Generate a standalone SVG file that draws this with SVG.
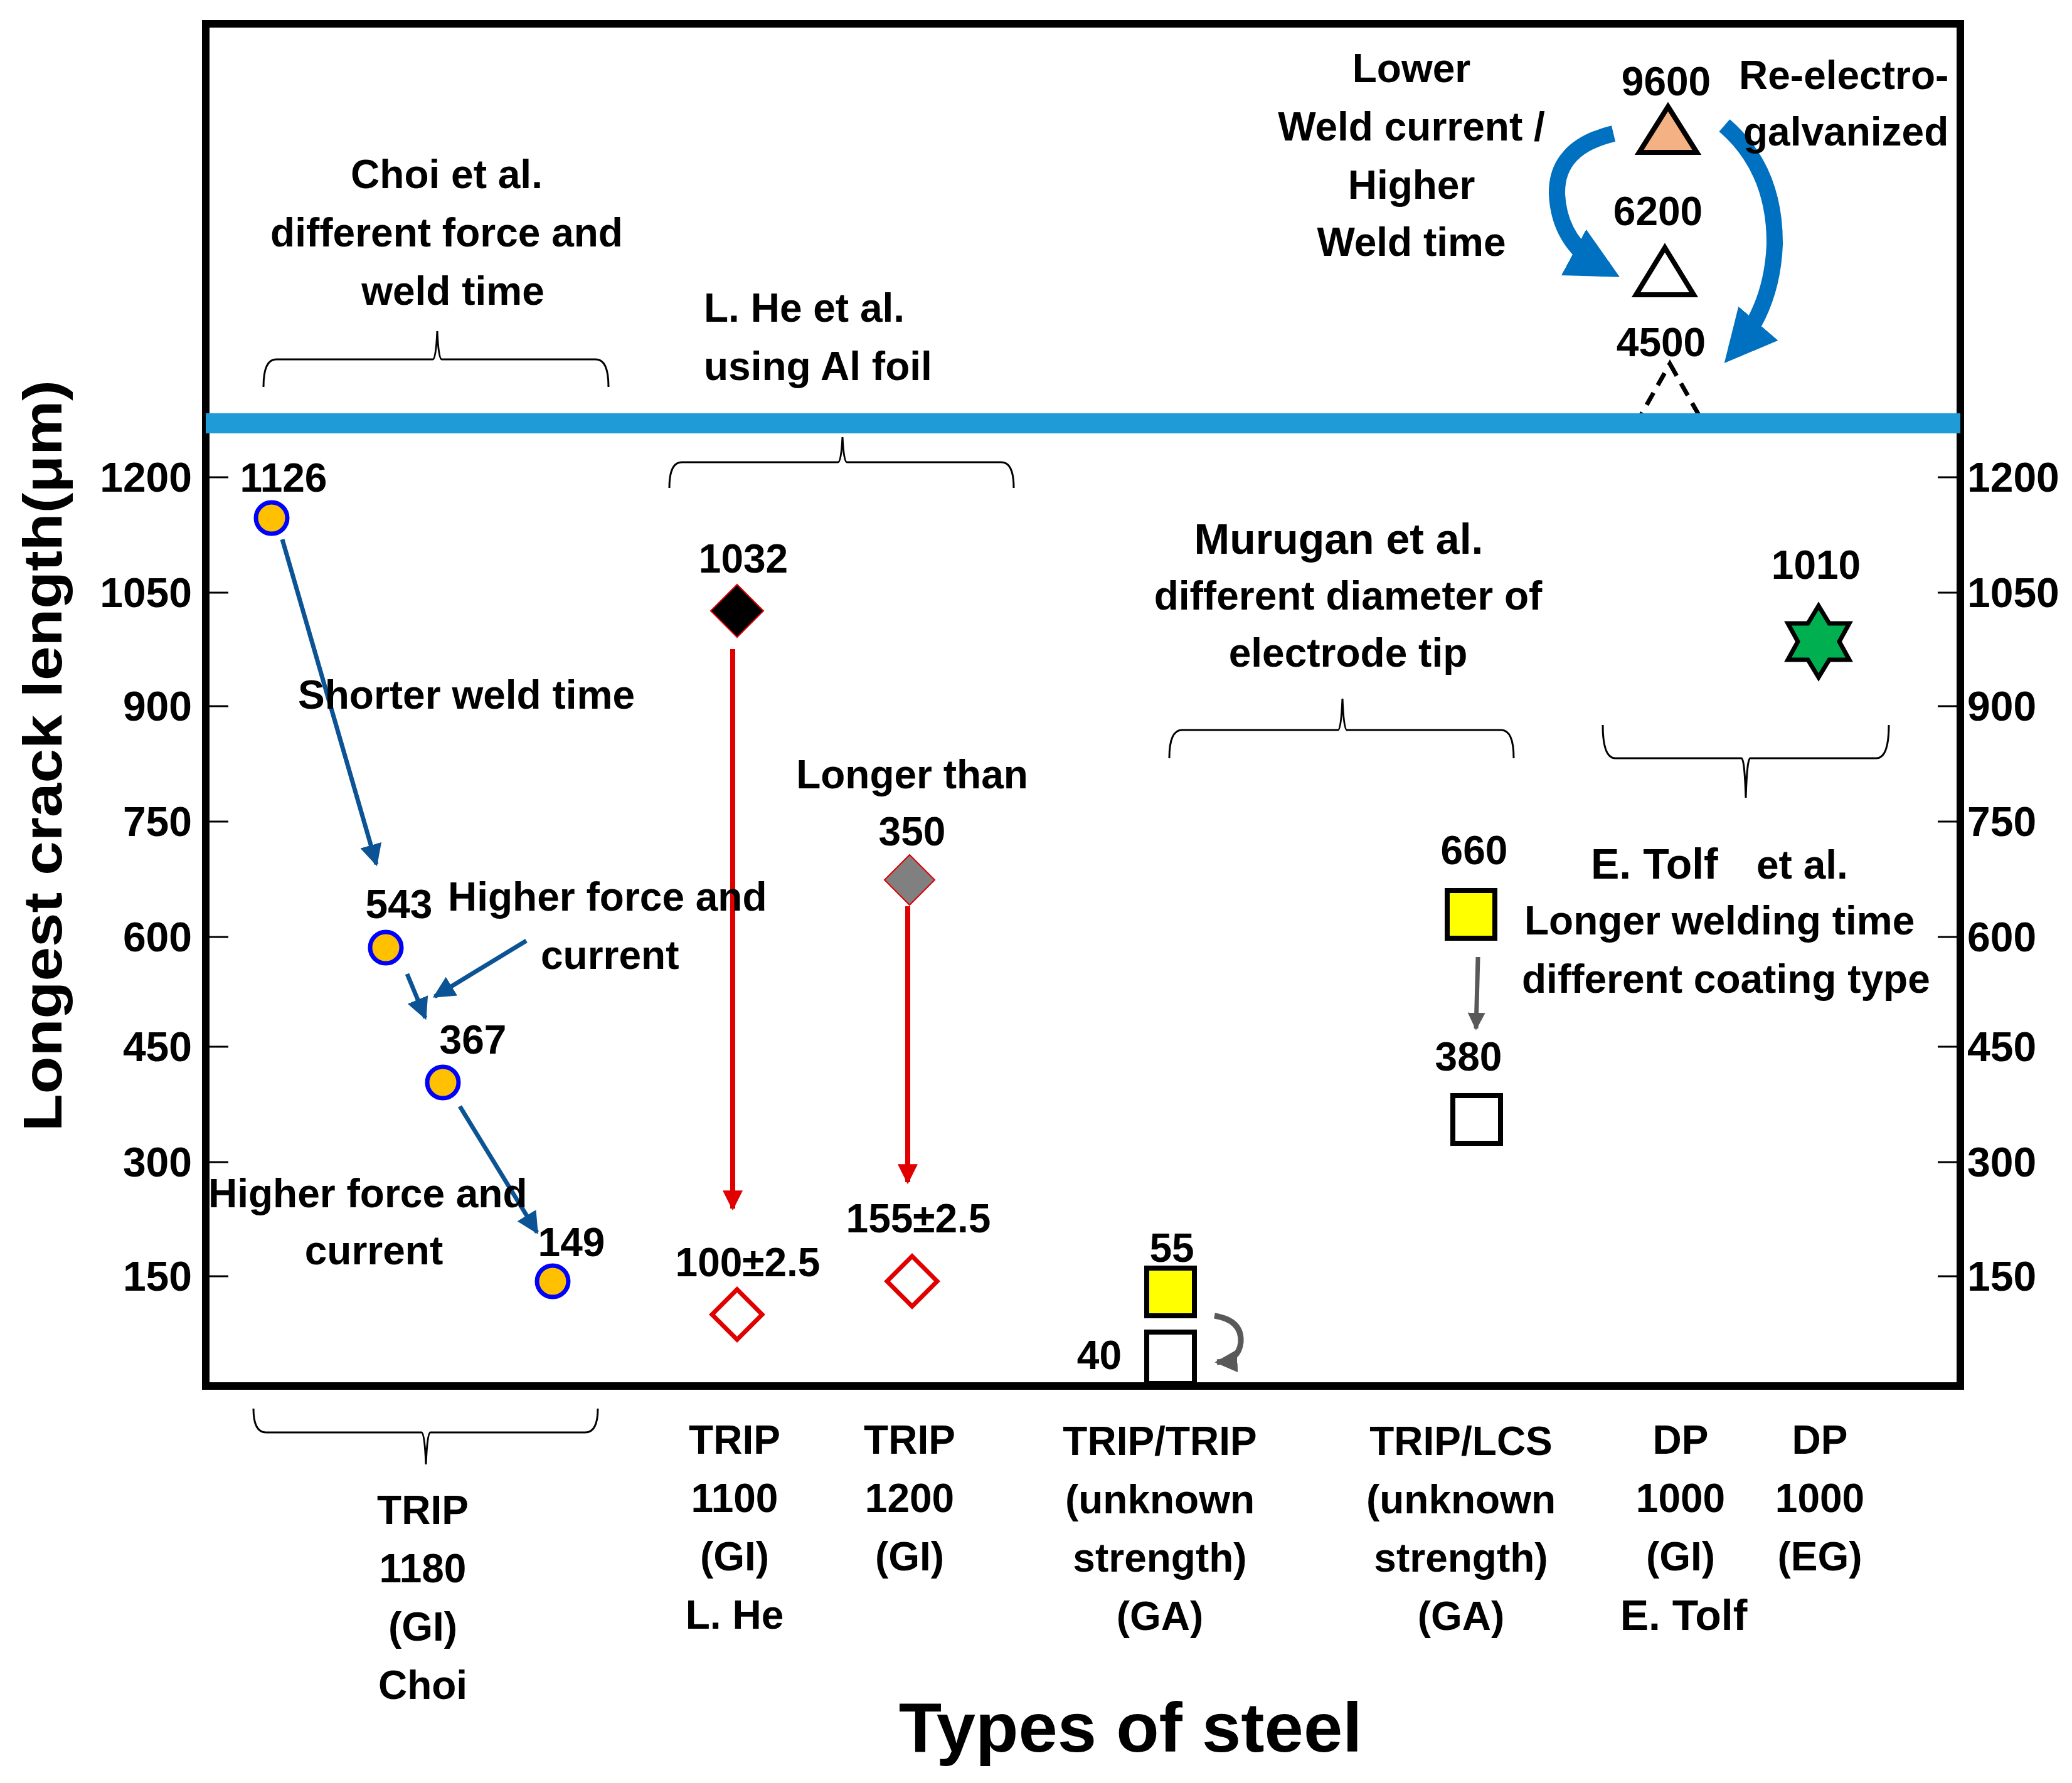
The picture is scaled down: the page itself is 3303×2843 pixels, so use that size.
<svg xmlns="http://www.w3.org/2000/svg" width="3303" height="2843" viewBox="0 0 3303 2843">
<style>
text{font-family:"Liberation Sans",Arial,sans-serif;font-weight:bold;fill:#000}
.t{font-size:64px}
.c{text-anchor:middle}
.r{text-anchor:end}
.k{font-size:66px}
.br{fill:none;stroke:#000;stroke-width:3}
.pt{fill:#FFC000;stroke:#0000FF;stroke-width:7}
</style>
<defs>
<marker id="ab" viewBox="0 0 10 10" refX="9" refY="5" markerWidth="5" markerHeight="5" orient="auto" markerUnits="strokeWidth"><path d="M0,0L10,5L0,10z" fill="#0B5394"/></marker>
<marker id="ar" viewBox="0 0 10 10" refX="9" refY="5" markerWidth="4" markerHeight="4" orient="auto" markerUnits="strokeWidth"><path d="M0,0L10,5L0,10z" fill="#E00000"/></marker>
<marker id="ag" viewBox="0 0 10 10" refX="9" refY="5" markerWidth="4" markerHeight="4" orient="auto" markerUnits="strokeWidth"><path d="M0,0L10,5L0,10z" fill="#595959"/></marker>
<marker id="aB" viewBox="0 0 10 10" refX="7" refY="5" markerWidth="3.2" markerHeight="3.2" orient="auto" markerUnits="strokeWidth"><path d="M0,0L10,5L0,10z" fill="#0070C0"/></marker>
</defs>
<rect width="3303" height="2843" fill="#fff"/>
<g id="frame">
<rect x="328" y="38" width="2797" height="2172" fill="none" stroke="#000" stroke-width="12"/>
<rect x="328" y="659" width="2797" height="32" fill="#1F9BD7"/>
<g stroke="#000" stroke-width="3">
<path d="M334 761H364M334 945H364M334 1126H364M334 1310H364M334 1494H364M334 1669H364M334 1853H364M334 2035H364"/>
<path d="M3089 761H3119M3089 945H3119M3089 1126H3119M3089 1310H3119M3089 1494H3119M3089 1669H3119M3089 1853H3119M3089 2035H3119"/>
</g>
<g class="k r">
<text x="306" y="784">1200</text><text x="306" y="968">1050</text><text x="306" y="1149">900</text><text x="306" y="1333">750</text><text x="306" y="1517">600</text><text x="306" y="1692">450</text><text x="306" y="1876">300</text><text x="306" y="2058">150</text>
</g>
<g class="k">
<text x="3136" y="784">1200</text><text x="3136" y="968">1050</text><text x="3136" y="1149">900</text><text x="3136" y="1333">750</text><text x="3136" y="1517">600</text><text x="3136" y="1692">450</text><text x="3136" y="1876">300</text><text x="3136" y="2058">150</text>
</g>
<text transform="translate(98,1205) rotate(-90)" class="c" font-size="88" textLength="1198" lengthAdjust="spacingAndGlyphs">Longest crack length(μm)</text>
<text x="1802" y="2793" class="c" font-size="112">Types of steel</text>
</g>
<g id="braces">
<path class="br" d="M420 617Q420 573 440 573H690Q695 573 697 528Q699 573 704 573H950Q970 573 970 617"/>
<path class="br" d="M1067 778Q1067 737 1087 737H1336Q1341 737 1343 697Q1345 737 1350 737H1596Q1616 737 1616 778"/>
<path class="br" d="M1864 1209Q1864 1164 1884 1164H2133Q2138 1164 2140 1114Q2142 1164 2147 1164H2393Q2413 1164 2413 1209"/>
<path class="br" d="M2555 1156Q2555 1209 2575 1209H2776Q2781 1209 2783 1272Q2785 1209 2790 1209H2991Q3011 1209 3011 1156"/>
<path class="br" d="M404 2246Q404 2284 424 2284H672Q677 2284 679 2335Q681 2284 686 2284H933Q953 2284 953 2246"/>
</g>
<g id="connectors" fill="none">
<g stroke="#0B5394" stroke-width="7" marker-end="url(#ab)">
<path d="M450 860L600 1378"/><path d="M649 1553L678 1623"/><path d="M839 1500L693 1589"/><path d="M733 1764L856 1965"/>
</g>
<g stroke="#E00000" stroke-width="8" marker-end="url(#ar)">
<path d="M1168 1035V1927"/><path d="M1447 1445V1885"/>
</g>
<path d="M2356 1526L2353 1640" stroke="#595959" stroke-width="7" marker-end="url(#ag)"/>
<path d="M1936 2098Q1980 2105 1978 2140Q1975 2170 1940 2172" stroke="#595959" stroke-width="9" marker-end="url(#ag)"/>
<path d="M2572 213Q2480 235 2482 310Q2486 390 2560 430" stroke="#0070C0" stroke-width="26" marker-end="url(#aB)"/>
<path d="M2749 200Q2830 270 2829 390Q2825 490 2765 560" stroke="#0070C0" stroke-width="26" marker-end="url(#aB)"/>
</g>
<g id="choi">
<circle class="pt" cx="433" cy="826" r="25"/><circle class="pt" cx="615" cy="1511" r="25"/><circle class="pt" cx="706" cy="1726" r="25"/><circle class="pt" cx="881" cy="2043" r="25"/>
<g class="t">
<text x="452" y="784" class="c">1126</text><text x="636" y="1464" class="c">543</text><text x="754" y="1680" class="c">367</text><text x="911" y="2003" class="c">149</text>
<text x="712" y="300" class="c">Choi et al.</text><text x="712" y="393" class="c">different force and</text><text x="722" y="486" class="c">weld time</text>
<text x="475" y="1130">Shorter weld time</text>
<text x="714" y="1452">Higher force and</text><text x="862" y="1545">current</text>
<text x="332" y="1925">Higher force and</text><text x="596" y="2016" class="c">current</text>
</g>
</g>
<g id="lhe">
<path d="M1175 932L1217 974L1175 1016L1133 974Z" fill="#000" stroke="#E00000" stroke-width="2"/>
<path d="M1175 2056L1215 2096L1175 2136L1135 2096Z" fill="none" stroke="#E00000" stroke-width="7"/>
<path d="M1450 1363L1490 1403L1450 1443L1410 1403Z" fill="#808080" stroke="#E00000" stroke-width="2"/>
<path d="M1454 2003L1494 2043L1454 2083L1414 2043Z" fill="none" stroke="#E00000" stroke-width="7"/>
<g class="t">
<text x="1122" y="513">L. He et al.</text><text x="1122" y="606">using Al foil</text>
<text x="1185" y="913" class="c">1032</text>
<text x="1192" y="2035" class="c">100±2.5</text>
<text x="1454" y="1257" class="c">Longer than</text><text x="1454" y="1348" class="c">350</text>
<text x="1464" y="1965" class="c">155±2.5</text>
</g>
</g>
<g id="murugan">
<rect x="1828" y="2022" width="76" height="76" fill="#FFFF00" stroke="#000" stroke-width="8"/>
<rect x="1828" y="2124" width="76" height="82" fill="#fff" stroke="#000" stroke-width="8"/>
<rect x="2307" y="1420" width="76" height="76" fill="#FFFF00" stroke="#000" stroke-width="8"/>
<rect x="2316" y="1747" width="76" height="76" fill="#fff" stroke="#000" stroke-width="8"/>
<g class="t">
<text x="2134" y="883" class="c" font-size="68">Murugan et al.</text>
<text x="2149" y="972" class="c">different diameter of</text><text x="2149" y="1063" class="c">electrode tip</text>
<text x="1868" y="2012" class="c">55</text><text x="1788" y="2183" class="r">40</text>
<text x="2350" y="1378" class="c">660</text><text x="2341" y="1707" class="c">380</text>
</g>
</g>
<g id="tolf">
<path d="M2899 966L2916 994L2948 994L2932 1023L2948 1052L2916 1052L2899 1080L2882 1052L2850 1052L2866 1023L2850 994L2882 994Z" fill="#00B050" stroke="#000" stroke-width="7"/>
<g class="t">
<text x="2895" y="923" class="c">1010</text>
<text x="2536" y="1401" font-size="68">E. Tolf</text><text x="2800" y="1401">et al.</text>
<text x="2430" y="1490">Longer welding time</text><text x="2426" y="1583">different coating type</text>
</g>
</g>
<g id="top">
<path d="M2659 170L2705 243L2613 243Z" fill="#F4B183" stroke="#000" stroke-width="8"/>
<path d="M2654 395L2700 470L2608 470Z" fill="#fff" stroke="#000" stroke-width="8"/>
<path d="M2662 580L2710 665L2614 665Z" fill="#fff" stroke="#000" stroke-width="7" stroke-dasharray="22,14"/>
<rect x="328" y="659" width="2797" height="32" fill="#1F9BD7"/>
<g class="t">
<text x="2250" y="131" class="c">Lower</text><text x="2250" y="224" class="c">Weld current /</text><text x="2250" y="317" class="c">Higher</text><text x="2250" y="408" class="c">Weld time</text>
<text x="2656" y="152" class="c">9600</text><text x="2643" y="359" class="c">6200</text><text x="2648" y="568" class="c">4500</text>
<text x="2772" y="142">Re-electro-</text><text x="2779" y="232">galvanized</text>
</g>
</g>
<g id="categories" class="t c">
<text x="674" y="2430">TRIP</text><text x="674" y="2523">1180</text><text x="674" y="2616">(GI)</text><text x="674" y="2709">Choi</text>
<text x="1171" y="2318">TRIP</text><text x="1171" y="2411">1100</text><text x="1171" y="2504">(GI)</text><text x="1171" y="2597">L. He</text>
<text x="1450" y="2318">TRIP</text><text x="1450" y="2411">1200</text><text x="1450" y="2504">(GI)</text>
<text x="1849" y="2320">TRIP/TRIP</text><text x="1849" y="2413">(unknown</text><text x="1849" y="2506">strength)</text><text x="1849" y="2599">(GA)</text>
<text x="2329" y="2320">TRIP/LCS</text><text x="2329" y="2413">(unknown</text><text x="2329" y="2506">strength)</text><text x="2329" y="2599">(GA)</text>
<text x="2679" y="2318">DP</text><text x="2679" y="2411">1000</text><text x="2679" y="2504">(GI)</text><text x="2684" y="2599" font-size="68">E. Tolf</text>
<text x="2901" y="2318">DP</text><text x="2901" y="2411">1000</text><text x="2901" y="2504">(EG)</text>
</g>
</svg>
